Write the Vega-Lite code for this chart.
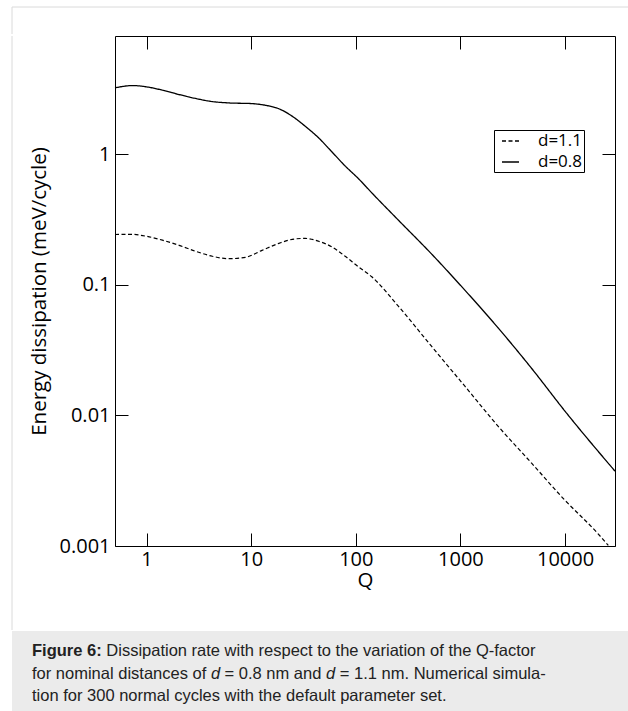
{
  "$schema": "https://vega.github.io/schema/vega-lite/v6.json",
  "background": "white",
  "padding": {"left": 11, "top": 6, "right": 0, "bottom": 0},
  "spacing": 0,
  "config": {
    "view": {"stroke": null},
    "axis": {
      "domainColor": "black", "domainWidth": 1, "tickColor": "black", "tickWidth": 1,
      "labelFont": "Open Sans", "labelFontSize": 20, "labelColor": "black",
      "titleFont": "Open Sans", "titleFontSize": 20.5, "titleFontWeight": "normal", "titleColor": "black",
      "grid": false
    }
  },
  "vconcat": [
    {
      "width": 617,
      "height": 27,
      "data": {"values": [{"edge": 0}]},
      "layer": [
        {"mark": {"type": "rule", "color": "#dadada", "strokeWidth": 1},
         "encoding": {"y": {"datum": 1, "type": "quantitative", "scale": {"domain": [0, 1]}, "axis": null}}},
        {"mark": {"type": "rule", "color": "#dadada", "strokeWidth": 1},
         "encoding": {"x": {"datum": 0, "type": "quantitative", "scale": {"domain": [0, 1]}, "axis": null}}}
      ]
    },
    {
      "spacing": 0,
      "hconcat": [
        {
          "width": 17,
          "height": 594,
          "data": {"values": [{"edge": 0}]},
          "mark": {"type": "rule", "color": "#dadada", "strokeWidth": 1},
          "encoding": {"x": {"datum": 0, "type": "quantitative", "scale": {"domain": [0, 1]}, "axis": null}}
        },
        {
          "width": 500,
          "height": 510,
          "data": {"values": [
            {"Q": 0.5, "E": 3.21, "series": "d=0.8"},
            {"Q": 0.74, "E": 3.34, "series": "d=0.8"},
            {"Q": 0.99, "E": 3.27, "series": "d=0.8"},
            {"Q": 1.42, "E": 3.08, "series": "d=0.8"},
            {"Q": 2.05, "E": 2.85, "series": "d=0.8"},
            {"Q": 2.95, "E": 2.66, "series": "d=0.8"},
            {"Q": 4.25, "E": 2.52, "series": "d=0.8"},
            {"Q": 6.13, "E": 2.46, "series": "d=0.8"},
            {"Q": 10.2, "E": 2.43, "series": "d=0.8"},
            {"Q": 13.7, "E": 2.36, "series": "d=0.8"},
            {"Q": 18.4, "E": 2.22, "series": "d=0.8"},
            {"Q": 24.6, "E": 1.95, "series": "d=0.8"},
            {"Q": 32.9, "E": 1.63, "series": "d=0.8"},
            {"Q": 44.1, "E": 1.33, "series": "d=0.8"},
            {"Q": 59.0, "E": 1.04, "series": "d=0.8"},
            {"Q": 79.1, "E": 0.81, "series": "d=0.8"},
            {"Q": 106, "E": 0.648, "series": "d=0.8"},
            {"Q": 142, "E": 0.505, "series": "d=0.8"},
            {"Q": 255, "E": 0.312, "series": "d=0.8"},
            {"Q": 529, "E": 0.172, "series": "d=0.8"},
            {"Q": 1000, "E": 0.099, "series": "d=0.8"},
            {"Q": 2286, "E": 0.0468, "series": "d=0.8"},
            {"Q": 4743, "E": 0.0231, "series": "d=0.8"},
            {"Q": 10230, "E": 0.0105, "series": "d=0.8"},
            {"Q": 30000, "E": 0.00374, "series": "d=0.8"},
            {"Q": 0.5, "E": 0.242, "series": "d=1.1"},
            {"Q": 0.7, "E": 0.243, "series": "d=1.1"},
            {"Q": 0.99, "E": 0.235, "series": "d=1.1"},
            {"Q": 1.42, "E": 0.219, "series": "d=1.1"},
            {"Q": 2.05, "E": 0.2, "series": "d=1.1"},
            {"Q": 2.95, "E": 0.18, "series": "d=1.1"},
            {"Q": 4.25, "E": 0.165, "series": "d=1.1"},
            {"Q": 6.13, "E": 0.158, "series": "d=1.1"},
            {"Q": 8.84, "E": 0.162, "series": "d=1.1"},
            {"Q": 12.7, "E": 0.183, "series": "d=1.1"},
            {"Q": 18.4, "E": 0.207, "series": "d=1.1"},
            {"Q": 26.4, "E": 0.224, "series": "d=1.1"},
            {"Q": 32.9, "E": 0.226, "series": "d=1.1"},
            {"Q": 44.1, "E": 0.215, "series": "d=1.1"},
            {"Q": 59.0, "E": 0.195, "series": "d=1.1"},
            {"Q": 79.1, "E": 0.165, "series": "d=1.1"},
            {"Q": 106, "E": 0.137, "series": "d=1.1"},
            {"Q": 142, "E": 0.115, "series": "d=1.1"},
            {"Q": 255, "E": 0.0685, "series": "d=1.1"},
            {"Q": 529, "E": 0.0338, "series": "d=1.1"},
            {"Q": 1103, "E": 0.0167, "series": "d=1.1"},
            {"Q": 2286, "E": 0.00827, "series": "d=1.1"},
            {"Q": 4743, "E": 0.00434, "series": "d=1.1"},
            {"Q": 9810, "E": 0.00227, "series": "d=1.1"},
            {"Q": 20290, "E": 0.00126, "series": "d=1.1"},
            {"Q": 25900, "E": 0.00101, "series": "d=1.1"}
          ]},
          "encoding": {
            "strokeDash": {
              "field": "series", "type": "nominal",
              "scale": {"domain": ["d=1.1", "d=0.8"], "range": [[4, 2.5], [1, 0]]},
              "legend": {
                "orient": "none", "legendX": 482, "legendY": 123, "title": null,
                "strokeColor": "black", "fillColor": "white", "padding": 1.5, "cornerRadius": 0,
                "symbolType": "stroke", "symbolSize": 289, "symbolStrokeColor": "black", "symbolStrokeWidth": 1.3,
                "symbolOffset": 5.5,
                "labelFont": "Open Sans", "labelFontSize": 17, "labelColor": "black", "labelOffset": 18, "rowPadding": 3
              }
            }
          },
          "layer": [
            {
              "transform": [{"filter": "datum.series == 'd=0.8'"}],
              "mark": {"type": "line", "color": "black", "strokeWidth": 1.3, "interpolate": "monotone"},
              "encoding": {
                "x": {"field": "Q", "type": "quantitative",
                  "scale": {"type": "log", "domain": [0.5, 30000], "nice": false},
                  "axis": {"orient": "bottom", "values": [1, 10, 100, 1000, 10000], "format": "~g", "title": "Q", "tickSize": -13, "labelPadding": 16, "titlePadding": 1}},
                "y": {"field": "E", "type": "quantitative",
                  "scale": {"type": "log", "domain": [0.001, 8], "nice": false},
                  "axis": {"orient": "left", "values": [0.001, 0.01, 0.1, 1], "format": "~g", "title": "Energy dissipation (meV/cycle)", "tickSize": -13, "labelPadding": 18, "titlePadding": 10}}
              }
            },
            {
              "transform": [{"filter": "datum.series == 'd=1.1'"}],
              "mark": {"type": "line", "color": "black", "strokeWidth": 1.2, "interpolate": "monotone"},
              "encoding": {
                "x": {"field": "Q", "type": "quantitative",
                  "scale": {"type": "log", "domain": [0.5, 30000], "nice": false},
                  "axis": {"orient": "top", "values": [1, 10, 100, 1000, 10000], "labels": false, "title": null, "tickSize": -13}},
                "y": {"field": "E", "type": "quantitative",
                  "scale": {"type": "log", "domain": [0.001, 8], "nice": false},
                  "axis": {"orient": "right", "values": [0.001, 0.01, 0.1, 1], "labels": false, "title": null, "tickSize": -13}}
              }
            }
          ],
          "resolve": {"axis": {"x": "independent", "y": "independent"}}
        }
      ]
    },
    {
      "width": 617,
      "height": 81,
      "view": {"fill": "#ebebeb", "stroke": null},
      "data": {"values": [
        {"line": 1, "part": "bold", "text": "Figure 6:"},
        {"line": 1, "part": "b", "text": "Dissipation rate with respect to the variation of the Q-factor"},
        {"line": 2, "part": "a", "text": "for nominal distances of"},
        {"line": 2, "part": "i1", "text": "d"},
        {"line": 2, "part": "c", "text": "= 0.8 nm and"},
        {"line": 2, "part": "i2", "text": "d"},
        {"line": 2, "part": "e", "text": "= 1.1 nm. Numerical simula-"},
        {"line": 3, "part": "a", "text": "tion for 300 normal cycles with the default parameter set."}
      ]},
      "encoding": {
        "y": {"field": "line", "type": "ordinal", "scale": {"type": "point", "padding": 0.82}, "axis": null},
        "x": {"datum": 0, "type": "quantitative", "scale": {"domain": [0, 1]}, "axis": null},
        "text": {"field": "text"}
      },
      "layer": [
        {"transform": [{"filter": "datum.part == 'bold'"}],
         "mark": {"type": "text", "align": "left", "baseline": "middle", "font": "Liberation Sans", "fontSize": 16.5, "fontWeight": "bold", "color": "#222", "dx": 20, "dy": 2}},
        {"transform": [{"filter": "datum.part == 'a'"}],
         "mark": {"type": "text", "align": "left", "baseline": "middle", "font": "Liberation Sans", "fontSize": 16.5, "color": "#222", "dx": 20, "dy": 2}},
        {"transform": [{"filter": "datum.part == 'b'"}],
         "mark": {"type": "text", "align": "left", "baseline": "middle", "font": "Liberation Sans", "fontSize": 16.5, "color": "#222", "dx": 94.3, "dy": 2}},
        {"transform": [{"filter": "datum.part == 'i1'"}],
         "mark": {"type": "text", "align": "left", "baseline": "middle", "font": "Liberation Sans", "fontSize": 16.5, "fontStyle": "italic", "color": "#222", "dx": 198.9, "dy": 2}},
        {"transform": [{"filter": "datum.part == 'c'"}],
         "mark": {"type": "text", "align": "left", "baseline": "middle", "font": "Liberation Sans", "fontSize": 16.5, "color": "#222", "dx": 212.6, "dy": 2}},
        {"transform": [{"filter": "datum.part == 'i2'"}],
         "mark": {"type": "text", "align": "left", "baseline": "middle", "font": "Liberation Sans", "fontSize": 16.5, "fontStyle": "italic", "color": "#222", "dx": 314.0, "dy": 2}},
        {"transform": [{"filter": "datum.part == 'e'"}],
         "mark": {"type": "text", "align": "left", "baseline": "middle", "font": "Liberation Sans", "fontSize": 16.5, "color": "#222", "dx": 327.8, "dy": 2}}
      ]
    }
  ]
}
